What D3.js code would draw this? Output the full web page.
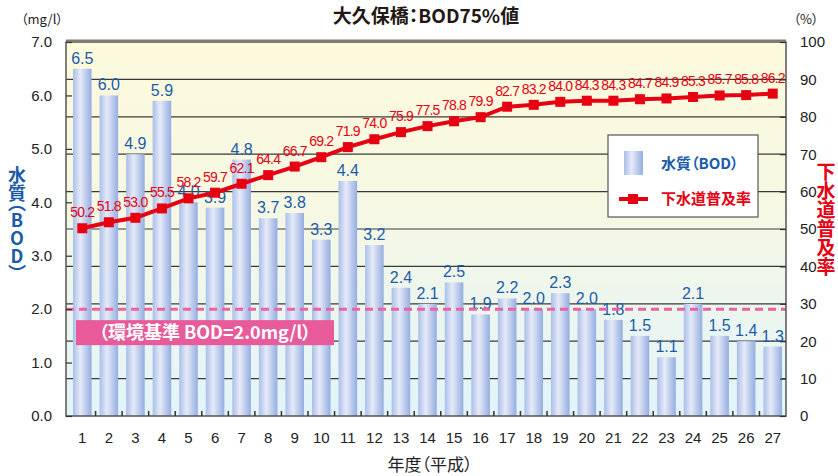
<!DOCTYPE html>
<html>
<head>
<meta charset="utf-8">
<script src="https://cdn.jsdelivr.net/npm/d3@7"></script>
<style>
  body { margin: 0; background: #fff; }
  text { font-family: "Liberation Sans", Arial, "Noto Sans CJK JP", sans-serif; }
  .jp { font-family: "Noto Sans CJK JP", sans-serif; font-feature-settings: "palt"; }
  .vt { font-family: "Noto Sans CJK JP", sans-serif; font-feature-settings: "vpal"; }
</style>
</head>
<body>
<div id="chart"></div>
<script>
var years = ["1","2","3","4","5","6","7","8","9","10","11","12","13","14","15","16","17","18","19","20","21","22","23","24","25","26","27"];
var bod = [6.5,6.0,4.9,5.9,4.0,3.9,4.8,3.7,3.8,3.3,4.4,3.2,2.4,2.1,2.5,1.9,2.2,2.0,2.3,2.0,1.8,1.5,1.1,2.1,1.5,1.4,1.3];
var sewer = [50.2,51.8,53.0,55.5,58.2,59.7,62.1,64.4,66.7,69.2,71.9,74.0,75.9,77.5,78.8,79.9,82.7,83.2,84.0,84.3,84.3,84.7,84.9,85.3,85.7,85.8,86.2];
var leftTicks = [0,1,2,3,4,5,6,7];
var rightTicks = [0,10,20,30,40,50,60,70,80,90,100];
var standard = 2.0;

var w = 838, h = 476;
var m = {left: 66, right: 52, top: 42, bottom: 60};

var svg = d3.select("#chart").append("svg")
    .attr("width", w).attr("height", h);

var defs = svg.append("defs");
var bg = defs.append("linearGradient").attr("id", "bg")
    .attr("x1", 0).attr("y1", 0).attr("x2", 0).attr("y2", 1);
bg.append("stop").attr("offset", "0%").attr("stop-color", "#fdfadc");
bg.append("stop").attr("offset", "45%").attr("stop-color", "#f6f8e4");
bg.append("stop").attr("offset", "100%").attr("stop-color", "#e2f4fa");

var barGrad = defs.append("linearGradient").attr("id", "barGrad")
    .attr("x1", 0).attr("y1", 0).attr("x2", 1).attr("y2", 0);
barGrad.append("stop").attr("offset", "0%").attr("stop-color", "#a9bfe8");
barGrad.append("stop").attr("offset", "40%").attr("stop-color", "#e6eaf8");
barGrad.append("stop").attr("offset", "100%").attr("stop-color", "#94ade0");

var x = d3.scaleBand().domain(years).range([m.left + 3, w - m.right]).paddingInner(0.3).paddingOuter(0.15);
var xb = d3.scaleBand().domain(years).range([m.left + 3, w - m.right]);
var yL = d3.scaleLinear().domain([0, 7]).range([h - m.bottom, m.top]);
var yR = d3.scaleLinear().domain([0, 100]).range([h - m.bottom, m.top]);

// plot background
svg.append("rect")
    .attr("x", m.left).attr("y", m.top)
    .attr("width", w - m.left - m.right).attr("height", h - m.top - m.bottom)
    .attr("fill", "url(#bg)");

// gridlines on the right axis
svg.append("g").selectAll("line")
    .data(rightTicks.slice(1, -1))
    .enter().append("line")
    .attr("x1", m.left).attr("x2", w - m.right)
    .attr("y1", function(d) { return yR(d); })
    .attr("y2", function(d) { return yR(d); })
    .attr("stroke", "#3a3a3a").attr("stroke-width", 1.2);

// bars
svg.append("g").selectAll("rect")
    .data(bod)
    .enter().append("rect")
    .attr("x", function(d, i) { return x(years[i]); })
    .attr("y", function(d) { return yL(d); })
    .attr("width", x.bandwidth())
    .attr("height", function(d) { return yL(0) - yL(d); })
    .attr("fill", "url(#barGrad)");

// bar labels
svg.append("g").selectAll("text")
    .data(bod)
    .enter().append("text")
    .attr("x", function(d, i) { return x(years[i]) + x.bandwidth() / 2; })
    .attr("y", function(d) { return yL(d) - 5; })
    .attr("text-anchor", "middle")
    .attr("font-size", 16)
    .attr("fill", "#1a5cab")
    .text(function(d) { return d.toFixed(1); });

// standard line
svg.append("line")
    .attr("x1", m.left).attr("x2", w - m.right)
    .attr("y1", yL(standard)).attr("y2", yL(standard))
    .attr("stroke", "#ec63a2").attr("stroke-width", 3)
    .attr("stroke-dasharray", "8,5");

svg.append("rect")
    .attr("x", 76).attr("y", yL(standard) + 11)
    .attr("width", 258).attr("height", 25)
    .attr("fill", "#e85a9a");
svg.append("text")
    .attr("class", "jp")
    .attr("x", 205).attr("y", yL(standard) + 30)
    .attr("text-anchor", "middle")
    .attr("font-size", 18).attr("font-weight", "bold")
    .attr("fill", "#fff")
    .text("（環境基準 BOD=2.0mg/l）");

// sewer line
var line = d3.line()
    .x(function(d, i) { return xb(years[i]) + xb.bandwidth() / 2; })
    .y(function(d) { return yR(d); });

svg.append("path")
    .datum(sewer)
    .attr("d", line)
    .attr("fill", "none")
    .attr("stroke", "#e60012")
    .attr("stroke-width", 4);

svg.append("g").selectAll("rect")
    .data(sewer)
    .enter().append("rect")
    .attr("x", function(d, i) { return xb(years[i]) + xb.bandwidth() / 2 - 5; })
    .attr("y", function(d) { return yR(d) - 5; })
    .attr("width", 10).attr("height", 10)
    .attr("fill", "#e60012");

svg.append("g").selectAll("text")
    .data(sewer)
    .enter().append("text")
    .attr("x", function(d, i) { return xb(years[i]) + xb.bandwidth() / 2; })
    .attr("y", function(d) { return yR(d) - 11; })
    .attr("text-anchor", "middle")
    .attr("font-size", 14)
    .attr("letter-spacing", -0.8)
    .attr("fill", "#e60012")
    .text(function(d) { return d.toFixed(1); });

// frame
svg.append("rect")
    .attr("x", m.left).attr("y", m.top)
    .attr("width", w - m.left - m.right).attr("height", h - m.top - m.bottom)
    .attr("fill", "none").attr("stroke", "#555").attr("stroke-width", 1.5);
svg.append("line")
    .attr("x1", m.left).attr("x2", w - m.right)
    .attr("y1", m.top - 1).attr("y2", m.top - 1)
    .attr("stroke", "#857a72").attr("stroke-width", 3);

// axes
var axisL = d3.axisLeft(yL).tickValues(leftTicks).tickFormat(d3.format(".1f")).tickSize(-6).tickPadding(14);
var gL = svg.append("g").attr("transform", "translate(" + m.left + ",0)").call(axisL);
var axisR = d3.axisRight(yR).tickValues(rightTicks).tickSize(-6).tickPadding(14);
var gR = svg.append("g").attr("transform", "translate(" + (w - m.right) + ",0)").call(axisR);
var axisB = d3.axisBottom(xb).tickSize(0).tickPadding(16);
var gB = svg.append("g").attr("transform", "translate(0," + (h - m.bottom) + ")").call(axisB);

[gL, gR, gB].forEach(function(g) {
    g.select(".domain").remove();
    g.selectAll("text").attr("font-size", 15).attr("fill", "#222")
        .style("font-family", "'Liberation Sans', Arial, sans-serif");
    g.selectAll(".tick line").attr("stroke", "#333").attr("stroke-width", 1.2);
});

// bottom ticks at band boundaries
svg.append("g").selectAll("line")
    .data(years.slice(1))
    .enter().append("line")
    .attr("x1", function(d) { return xb(d); })
    .attr("x2", function(d) { return xb(d); })
    .attr("y1", h - m.bottom).attr("y2", h - m.bottom - 5)
    .attr("stroke", "#333").attr("stroke-width", 1.5);

// titles
svg.append("text").attr("class", "jp")
    .attr("x", 426).attr("y", 23)
    .attr("text-anchor", "middle")
    .attr("font-size", 19).attr("font-weight", "bold").attr("fill", "#231815")
    .text("大久保橋：BOD75%値");

svg.append("text").attr("class", "jp")
    .attr("x", 42).attr("y", 24)
    .attr("text-anchor", "middle")
    .attr("font-size", 13).attr("fill", "#222")
    .text("（mg/l）");

svg.append("text").attr("class", "jp")
    .attr("x", 806).attr("y", 24)
    .attr("text-anchor", "middle")
    .attr("font-size", 13).attr("fill", "#222")
    .text("（%）");

svg.append("text").attr("class", "jp")
    .attr("x", 430).attr("y", 471)
    .attr("text-anchor", "middle")
    .attr("font-size", 17).attr("fill", "#222")
    .text("年度（平成）");

svg.append("text").attr("class", "vt")
    .attr("x", 17).attr("y", 166)
    .attr("writing-mode", "vertical-rl")
    .style("text-orientation", "upright")
    .attr("font-size", 18).attr("font-weight", "bold").attr("fill", "#1a5cab")
    .text("水質（BOD）");

svg.append("text").attr("class", "vt")
    .attr("x", 826).attr("y", 162)
    .attr("writing-mode", "vertical-rl")
    .style("text-orientation", "upright")
    .attr("font-size", 19).attr("font-weight", "bold").attr("fill", "#e60012")
    .text("下水道普及率");

// legend
var lg = svg.append("g");
lg.append("rect")
    .attr("x", 608).attr("y", 135).attr("width", 150).attr("height", 82)
    .attr("fill", "#fff").attr("stroke", "#555").attr("stroke-width", 1.2);
lg.append("rect")
    .attr("x", 624).attr("y", 151).attr("width", 19).attr("height", 24)
    .attr("fill", "url(#barGrad)");
lg.append("text").attr("class", "jp")
    .attr("x", 661).attr("y", 169)
    .attr("font-size", 15).attr("font-weight", "bold").attr("fill", "#1a5cab")
    .text("水質（BOD）");
lg.append("line")
    .attr("x1", 619).attr("x2", 648).attr("y1", 199).attr("y2", 199)
    .attr("stroke", "#e60012").attr("stroke-width", 4);
lg.append("rect")
    .attr("x", 628).attr("y", 194).attr("width", 10).attr("height", 10)
    .attr("fill", "#e60012");
lg.append("text").attr("class", "jp")
    .attr("x", 661).attr("y", 204)
    .attr("font-size", 15).attr("font-weight", "bold").attr("fill", "#e60012")
    .text("下水道普及率");
</script>
</body>
</html>
